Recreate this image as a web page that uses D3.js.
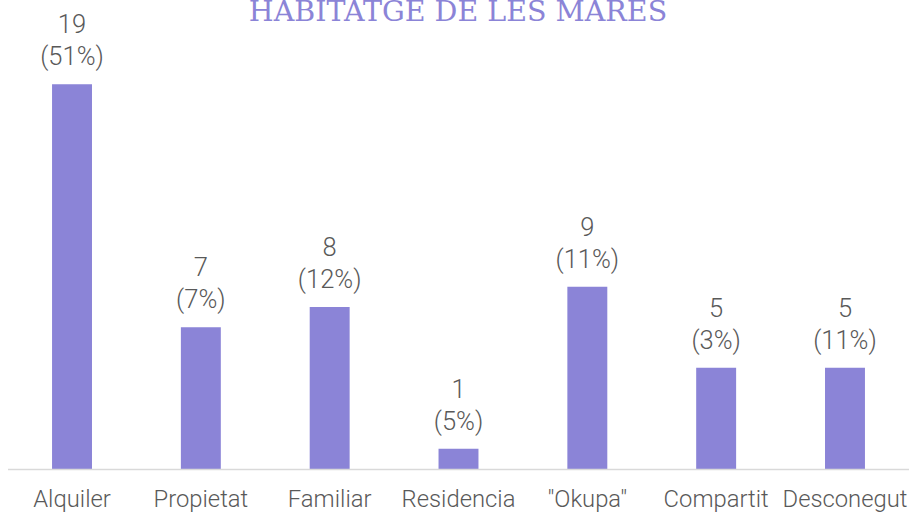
<!DOCTYPE html>
<html>
<head>
<meta charset="utf-8">
<script src="https://cdn.jsdelivr.net/npm/d3@7"></script>
<style>
  html, body { margin: 0; padding: 0; background: #ffffff; }
  svg { display: block; }
</style>
</head>
<body>
<div id="chart"></div>
<script>
// Habitatge de les mares: count and share per category
const categories = ["Alquiler", "Propietat", "Familiar", "Residencia", "\"Okupa\"", "Compartit", "Desconegut"];
const counts = [19, 7, 8, 1, 9, 5, 5];
const shares = ["51%", "7%", "12%", "5%", "11%", "3%", "11%"];
const title = "HABITATGE DE LES MARES";

const width = 912, height = 515;
const barColor = "#8b84d7";
const textColor = "#595959";

const svg = d3.select("#chart").append("svg")
  .attr("width", width)
  .attr("height", height);

const x = d3.scaleBand()
  .domain(categories)
  .range([7.6, 909.4])
  .paddingInner(0.69)
  .paddingOuter(0.345);

const y = d3.scaleLinear()
  .domain([0, 20])
  .range([469, 64]);

const data = categories.map((c, i) => ({ cat: c, n: counts[i], pct: shares[i] }));

// Title
svg.append("text")
  .attr("x", 458)
  .attr("y", 21)
  .attr("text-anchor", "middle")
  .attr("font-family", "'Roboto Slab', 'DejaVu Serif', serif")
  .attr("font-size", 28.5)
  .attr("fill", barColor)
  .text(title);

// Bars
svg.append("g").selectAll("rect")
  .data(data)
  .join("rect")
  .attr("x", d => x(d.cat))
  .attr("y", d => y(d.n))
  .attr("width", x.bandwidth())
  .attr("height", d => y(0) - y(d.n))
  .attr("fill", barColor);

// Category axis
const axis = svg.append("g")
  .attr("transform", `translate(0,${y(0)})`)
  .call(d3.axisBottom(x).tickSize(0).tickPadding(21));
axis.select(".domain")
  .attr("stroke", "#d9d9d9")
  .attr("stroke-width", 1.5)
  .attr("d", `M8,0.5H909`);
axis.selectAll("text")
  .attr("font-family", "Roboto, sans-serif")
  .attr("font-weight", 300)
  .attr("font-size", 23.8)
  .attr("fill", textColor);

// Value labels: count over percentage
const labels = svg.append("g").selectAll("text")
  .data(data)
  .join("text")
  .attr("text-anchor", "middle")
  .attr("font-family", "Roboto, sans-serif")
  .attr("font-weight", 300)
  .attr("font-size", 25.5)
  .attr("fill", textColor);
labels.append("tspan")
  .attr("x", d => x(d.cat) + x.bandwidth() / 2)
  .attr("y", d => y(d.n) - 51)
  .text(d => d.n);
labels.append("tspan")
  .attr("x", d => x(d.cat) + x.bandwidth() / 2)
  .attr("y", d => y(d.n) - 19)
  .text(d => `(${d.pct})`);
</script>
</body>
</html>
